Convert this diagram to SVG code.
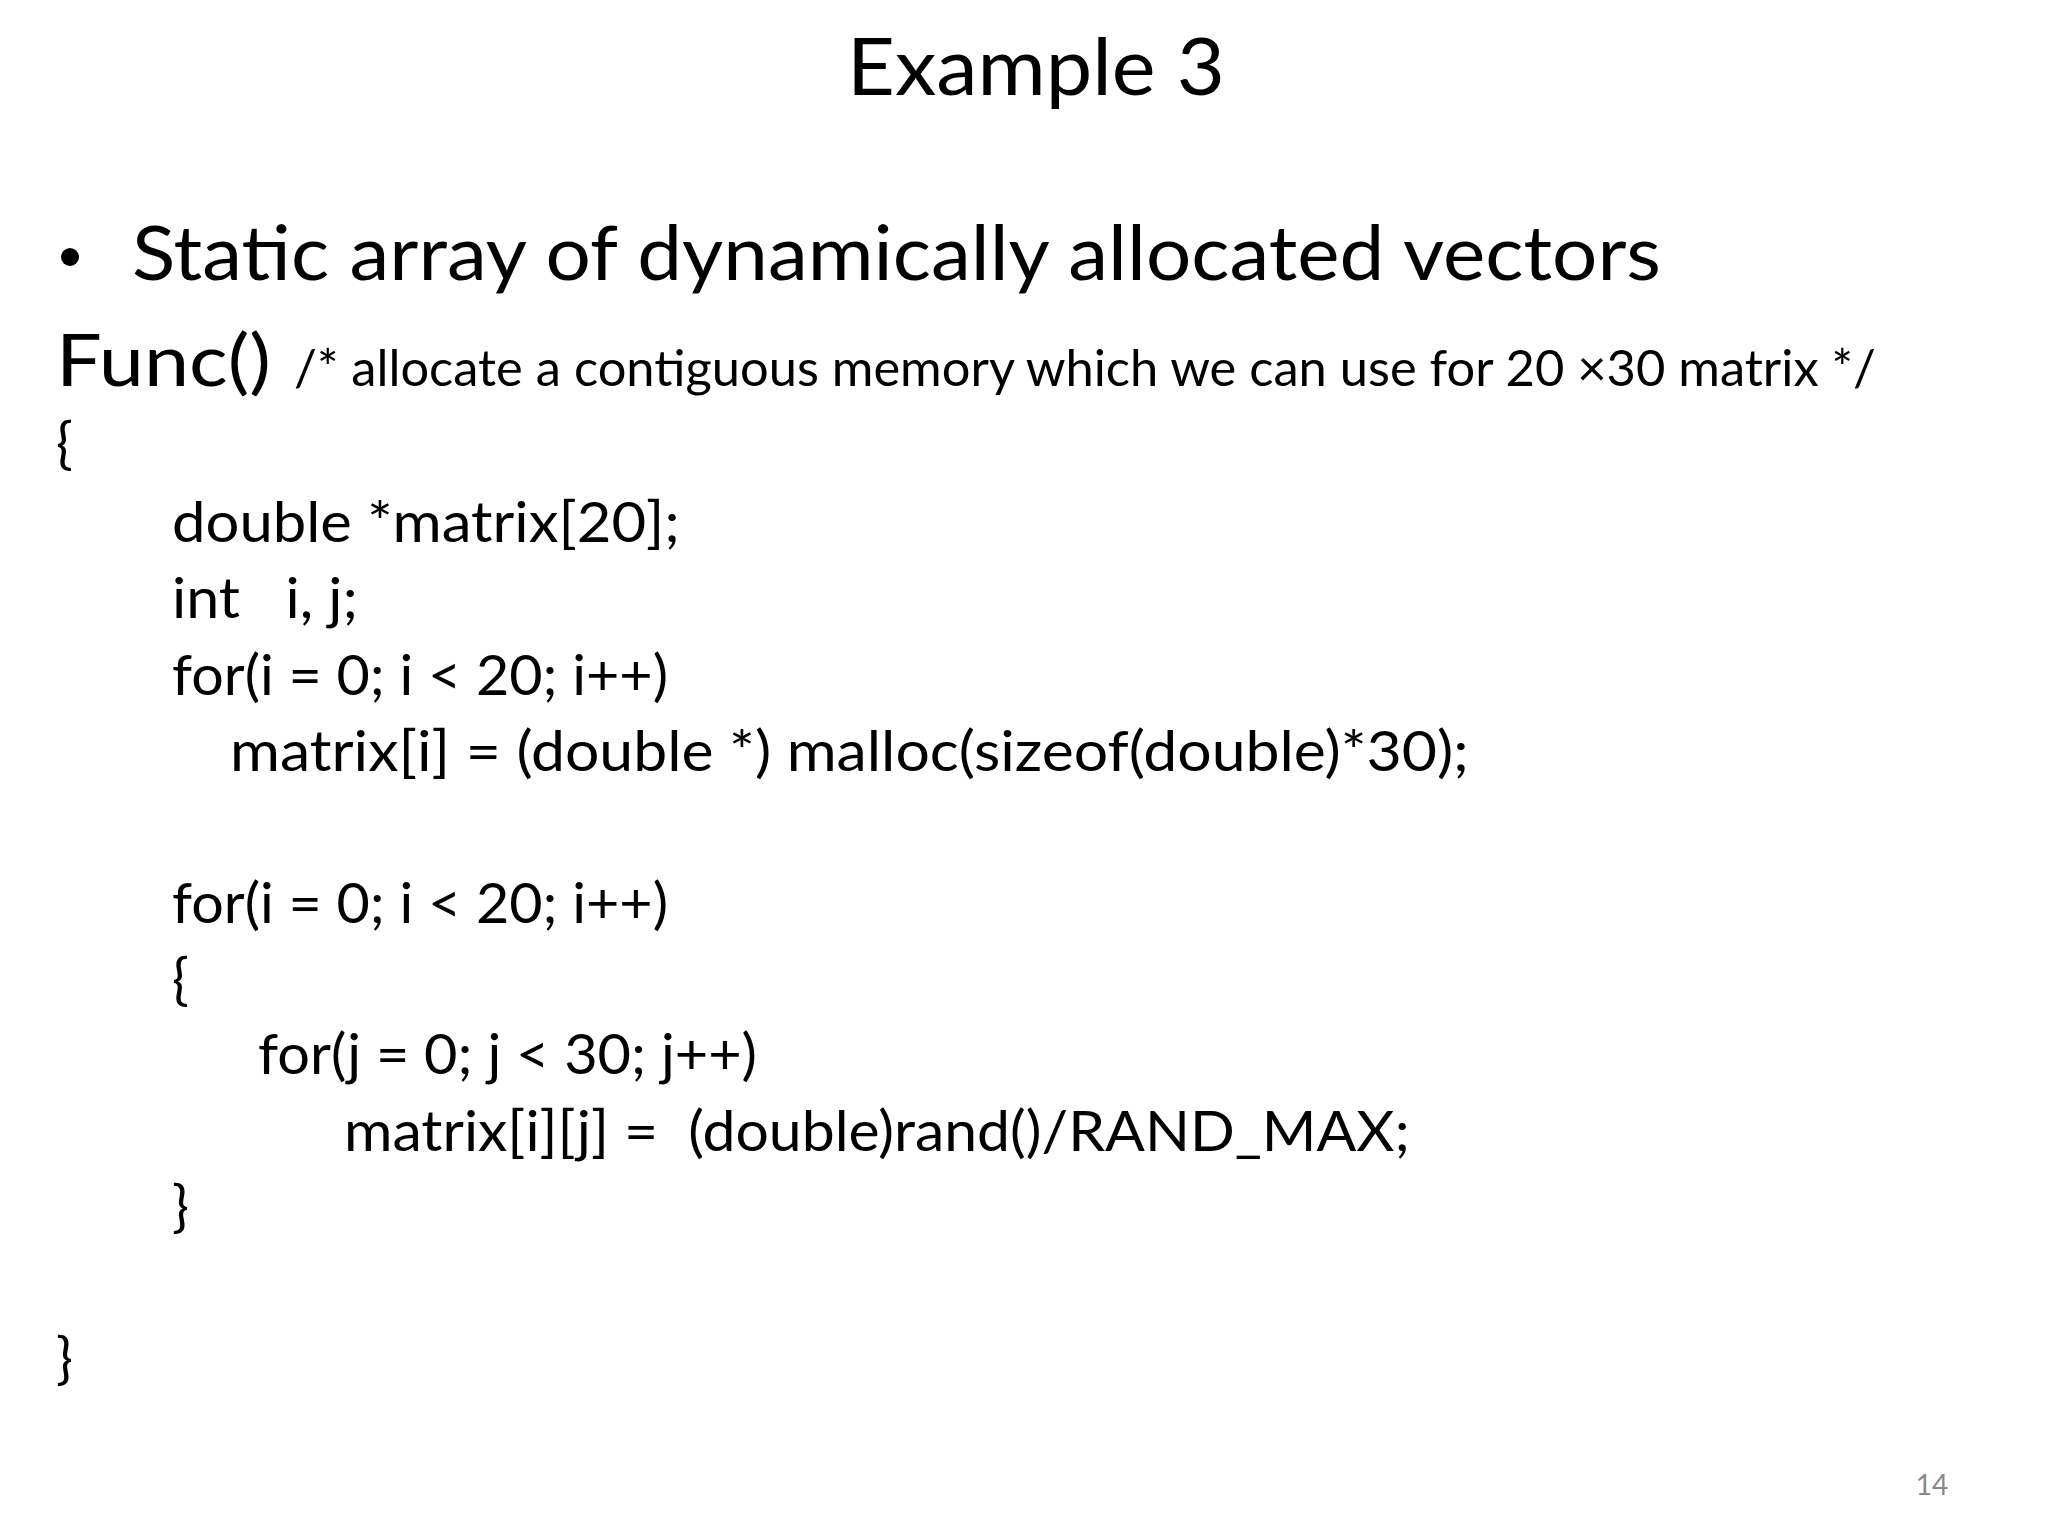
<svg xmlns="http://www.w3.org/2000/svg" width="2048" height="1536" viewBox="0 0 2048 1536">
<style>
text{font-family:Lato,"Open Sans","Liberation Sans",sans-serif;fill:#000}
.c{font-size:56px}
</style>
<rect width="2048" height="1536" fill="#fff"/>
<g id="title"><text x="1036" y="95" font-size="80" text-anchor="middle" textLength="378" lengthAdjust="spacingAndGlyphs">Example 3</text></g>
<g id="bullet">
<circle cx="70" cy="257" r="9" fill="#000"/>
<text x="132" y="280" font-size="76" textLength="1529" lengthAdjust="spacingAndGlyphs">Static array of dynamically allocated vectors</text>
</g>
<g id="code">
<text x="56" y="386" font-size="72" textLength="215" lengthAdjust="spacingAndGlyphs">Func()</text>
<text x="294" y="386" font-size="50" textLength="1582" lengthAdjust="spacingAndGlyphs">/* allocate a contiguous memory which we can use for 20 ×30 matrix */</text>
<text class="c" x="56" y="463">{</text>
<text class="c" x="172" y="542" textLength="508" lengthAdjust="spacingAndGlyphs">double *matrix[20];</text>
<text class="c" x="172" y="618" xml:space="preserve" textLength="186" lengthAdjust="spacingAndGlyphs">int   i, j;</text>
<text class="c" x="172" y="695" textLength="496" lengthAdjust="spacingAndGlyphs">for(i = 0; i &lt; 20; i++)</text>
<text class="c" x="230" y="771" textLength="1239" lengthAdjust="spacingAndGlyphs">matrix[i] = (double *) malloc(sizeof(double)*30);</text>
<text class="c" x="172" y="923" textLength="496" lengthAdjust="spacingAndGlyphs">for(i = 0; i &lt; 20; i++)</text>
<text class="c" x="172" y="999">{</text>
<text class="c" x="258" y="1074" textLength="499" lengthAdjust="spacingAndGlyphs">for(j = 0; j &lt; 30; j++)</text>
<text class="c" x="344" y="1151" xml:space="preserve" textLength="1066" lengthAdjust="spacingAndGlyphs">matrix[i][j] =  (double)rand()/RAND_MAX;</text>
<text class="c" x="172" y="1226">}</text>
<text class="c" x="56" y="1378">}</text>
</g>
<g id="page"><text x="1932" y="1495" font-size="28" fill="#888" style="fill:#888" text-anchor="middle">14</text></g>
</svg>
